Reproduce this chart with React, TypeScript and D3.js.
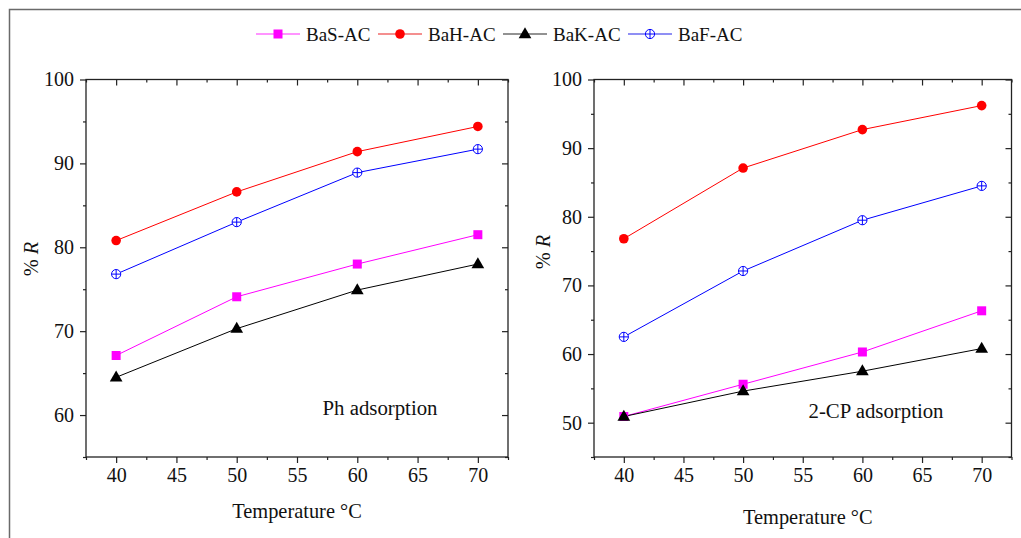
import React, { useEffect, useRef } from 'react';
import * as d3 from 'd3';

// temperatures (°C) shared by both panels
const temperatures = [40, 50, 60, 70];

const seriesNames = ['BaS-AC', 'BaH-AC', 'BaK-AC', 'BaF-AC'];
const seriesColors = ['#ff00ff', '#ff0000', '#000000', '#0000ff'];
const legendLineColors = ['#ff70ff', '#f06a6a', '#6e6e6e', '#6a6af0'];
const seriesMarkers = ['square', 'circle', 'triangle', 'crossCircle'];

// Ph adsorption, % R
const phBaS = [67.1, 74.1, 78.0, 81.5];
const phBaH = [80.8, 86.6, 91.4, 94.4];
const phBaK = [64.5, 70.3, 74.9, 78.0];
const phBaF = [76.8, 83.0, 88.9, 91.7];

// 2-CP adsorption, % R
const cpBaS = [50.9, 55.6, 60.3, 66.3];
const cpBaH = [76.8, 87.1, 92.7, 96.2];
const cpBaK = [50.9, 54.6, 57.5, 60.8];
const cpBaF = [62.5, 72.1, 79.5, 84.5];

const xTicks = [40, 45, 50, 55, 60, 65, 70];
const xMinorTicks = [37.5, 42.5, 47.5, 52.5, 57.5, 62.5, 67.5, 72.5];
const phYTicks = [60, 70, 80, 90, 100];
const phYMinor = [55, 65, 75, 85, 95];
const cpYTicks = [50, 60, 70, 80, 90, 100];
const cpYMinor = [45, 55, 65, 75, 85, 95];

const FONT = 'Liberation Serif, Tinos, Times New Roman, Times, DejaVu Serif';
const AXIS = '#222';

const drawMarker = (g, kind, x, y, color) => {
  if (kind === 'square') {
    g.append('rect').attr('x', x - 4.5).attr('y', y - 4.5).attr('width', 9).attr('height', 9).attr('fill', color);
  } else if (kind === 'circle') {
    g.append('circle').attr('cx', x).attr('cy', y).attr('r', 4.8).attr('fill', color);
  } else if (kind === 'triangle') {
    g.append('path')
      .attr('d', d3.symbol(d3.symbolTriangle, 70)())
      .attr('transform', `translate(${x},${y + 0.5})`)
      .attr('fill', color);
  } else {
    g.append('circle').attr('cx', x).attr('cy', y).attr('r', 4.6)
      .attr('fill', 'white').attr('stroke', color).attr('stroke-width', 1);
    g.append('path')
      .attr('d', `M${x - 4.6},${y}H${x + 4.6}M${x},${y - 4.6}V${y + 4.6}`)
      .attr('stroke', color).attr('stroke-width', 1);
  }
};

const styleAxis = (sel) => {
  sel.selectAll('.domain').remove();
  sel.selectAll('line').attr('stroke', AXIS).attr('stroke-width', 1.2);
  sel.selectAll('text').attr('font-family', FONT).attr('font-size', 20).attr('fill', '#111');
};

const drawPanel = (svg, p) => {
  const x = d3.scaleLinear().domain([37.5, 72.5]).range([p.left, p.right]);
  const y = d3.scaleLinear().domain(p.yDomain).range([p.bottom, p.top]);
  const g = svg.append('g');

  // bottom (outward, labelled)
  g.append('g').attr('transform', `translate(0,${p.bottom})`)
    .call(d3.axisBottom(x).tickValues(xTicks).tickSize(6).tickPadding(5).tickFormat(d3.format('d')))
    .call(styleAxis);
  g.append('g').attr('transform', `translate(0,${p.bottom})`)
    .call(d3.axisBottom(x).tickValues(xMinorTicks).tickSize(3).tickFormat(() => ''))
    .call(styleAxis);
  // top (inward)
  g.append('g').attr('transform', `translate(0,${p.top})`)
    .call(d3.axisTop(x).tickValues(xTicks).tickSize(-6).tickFormat(() => ''))
    .call(styleAxis);
  g.append('g').attr('transform', `translate(0,${p.top})`)
    .call(d3.axisTop(x).tickValues(xMinorTicks).tickSize(-3).tickFormat(() => ''))
    .call(styleAxis);
  // left (outward, labelled)
  g.append('g').attr('transform', `translate(${p.left},0)`)
    .call(d3.axisLeft(y).tickValues(p.yTicks).tickSize(6).tickPadding(6).tickFormat(d3.format('d')))
    .call(styleAxis);
  g.append('g').attr('transform', `translate(${p.left},0)`)
    .call(d3.axisLeft(y).tickValues(p.yMinor).tickSize(3).tickFormat(() => ''))
    .call(styleAxis);
  // right (inward)
  g.append('g').attr('transform', `translate(${p.right},0)`)
    .call(d3.axisRight(y).tickValues(p.yTicks).tickSize(-6).tickFormat(() => ''))
    .call(styleAxis);
  g.append('g').attr('transform', `translate(${p.right},0)`)
    .call(d3.axisRight(y).tickValues(p.yMinor).tickSize(-3).tickFormat(() => ''))
    .call(styleAxis);

  g.append('rect')
    .attr('x', p.left).attr('y', p.top)
    .attr('width', p.right - p.left).attr('height', p.bottom - p.top)
    .attr('fill', 'none').attr('stroke', AXIS).attr('stroke-width', 1.3);

  const line = d3.line().x((d, i) => x(temperatures[i])).y(d => y(d));

  p.series.forEach((values, si) => {
    g.append('path')
      .attr('d', line(values))
      .attr('fill', 'none')
      .attr('stroke', seriesColors[si])
      .attr('stroke-width', 1);
  });
  p.series.forEach((values, si) => {
    values.forEach((v, i) => drawMarker(g, seriesMarkers[si], x(temperatures[i]), y(v), seriesColors[si]));
  });

  g.append('text')
    .attr('x', p.labelX).attr('y', p.labelY)
    .attr('text-anchor', 'middle')
    .attr('font-family', FONT).attr('font-size', 20.8).attr('fill', '#111')
    .text(p.label);

  g.append('text')
    .attr('x', (p.left + p.right) / 2 + p.xTitleShift).attr('y', p.xTitleY)
    .attr('text-anchor', 'middle')
    .attr('font-family', FONT).attr('font-size', 20.4).attr('fill', '#111')
    .text('Temperature °C');

  const yt = g.append('text')
    .attr('transform', `translate(${p.yTitleX},${p.yTitleY}) rotate(-90)`)
    .attr('text-anchor', 'middle')
    .attr('font-family', FONT).attr('font-size', 20.4).attr('fill', '#111');
  yt.append('tspan').text('% ');
  yt.append('tspan').attr('font-style', 'italic').text('R');
};

const App = () => {
  const chartRef = useRef(null);

  useEffect(() => {
    const svg = d3.select(chartRef.current);
    svg.selectAll('*').remove();

    // outer frame (top and left edges visible)
    svg.append('path')
      .attr('d', 'M9.5,538V9.5H1021')
      .attr('fill', 'none').attr('stroke', '#6a6a6a').attr('stroke-width', 1.5);

    drawPanel(svg, {
      left: 86, right: 508, top: 79.5, bottom: 457,
      yDomain: [55, 100], yTicks: phYTicks, yMinor: phYMinor,
      series: [phBaS, phBaH, phBaK, phBaF],
      label: 'Ph adsorption', labelX: 380, labelY: 415,
      xTitleShift: 0, xTitleY: 518, yTitleX: 38, yTitleY: 259,
    });
    drawPanel(svg, {
      left: 594, right: 1011.5, top: 79.5, bottom: 457,
      yDomain: [45, 100], yTicks: cpYTicks, yMinor: cpYMinor,
      series: [cpBaS, cpBaH, cpBaK, cpBaF],
      label: '2-CP adsorption', labelX: 876, labelY: 418,
      xTitleShift: 5, xTitleY: 524, yTitleX: 550, yTitleY: 252,
    });

    // legend
    const legendX = [256, 378, 503, 628];
    const legend = svg.append('g');
    seriesNames.forEach((name, i) => {
      const lx = legendX[i];
      legend.append('line')
        .attr('x1', lx).attr('x2', lx + 44).attr('y1', 34).attr('y2', 34)
        .attr('stroke', legendLineColors[i]).attr('stroke-width', 1.5);
      drawMarker(legend, seriesMarkers[i], lx + 22, 34, seriesColors[i]);
      legend.append('text')
        .attr('x', lx + 50).attr('y', 41)
        .attr('font-family', FONT).attr('font-size', 19).attr('fill', '#111')
        .text(name);
    });
  });

  return (
    <svg
      ref={chartRef}
      width={1021}
      height={538}
      style={{ position: 'absolute', left: 0, top: 0, background: 'white' }}
    />
  );
};

export default App;
